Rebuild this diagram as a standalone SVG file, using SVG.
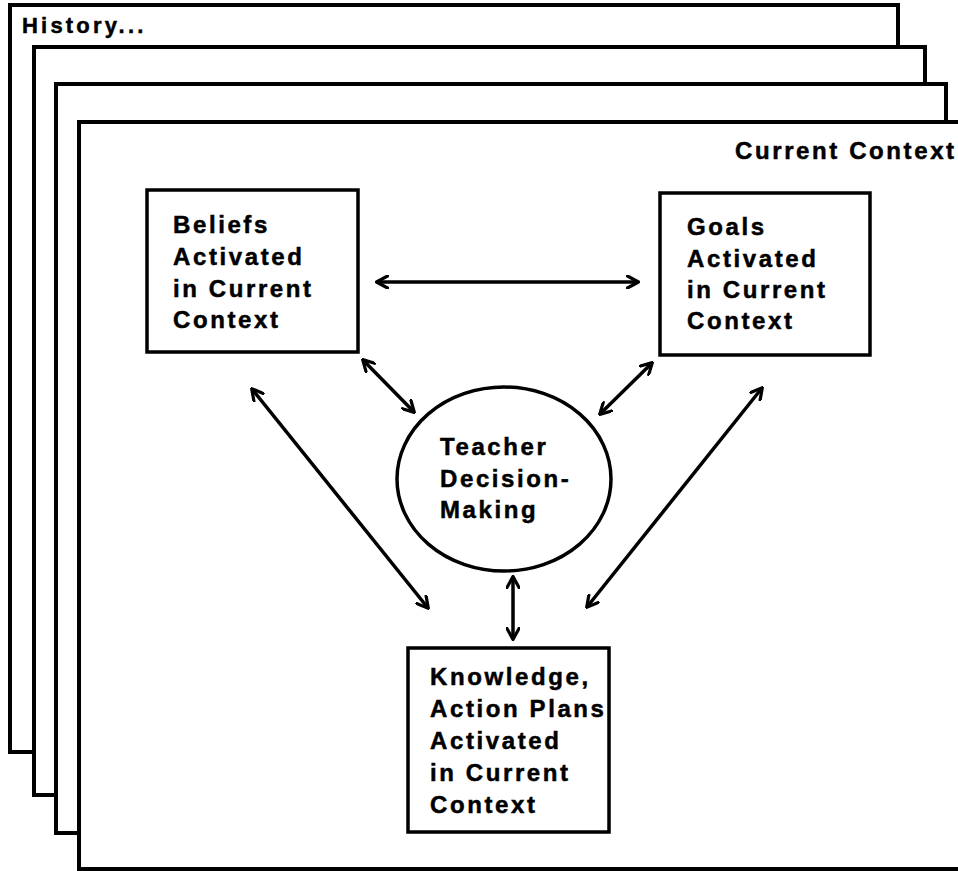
<svg xmlns="http://www.w3.org/2000/svg" width="958" height="871" viewBox="0 0 958 871">
<style>
.frame{fill:#fff;stroke:#000;stroke-width:4}
.box{fill:#fff;stroke:#000;stroke-width:3.5}
.t{font-family:"Liberation Sans",Arial,sans-serif;font-weight:bold;font-size:24px;letter-spacing:2.6px;fill:#000;stroke:#000;stroke-width:0.5}
.h{font-size:22px;letter-spacing:3.2px}
.arr{stroke:#000;stroke-width:3.5;fill:none;marker-start:url(#ah);marker-end:url(#ah)}
</style>
<defs>
<marker id="ah" viewBox="0 0 14 14" refX="12" refY="7" markerWidth="14" markerHeight="14" markerUnits="userSpaceOnUse" orient="auto-start-reverse">
<path d="M1.5,1 L12.5,7 L1.5,13" fill="none" stroke="#000" stroke-width="3.2" stroke-linecap="round" stroke-linejoin="round"/>
</marker>
</defs>
<rect width="958" height="871" fill="#fff"/>
<g id="frames">
<rect class="frame" x="10" y="5" width="888" height="747"/>
<text class="t h" x="22" y="33">History...</text>
<rect class="frame" x="34" y="47" width="891" height="748"/>
<rect class="frame" x="56" y="84" width="890" height="749"/>
<rect class="frame" x="79" y="122" width="900" height="747"/>
<text class="t" x="735" y="159">Current Context</text>
</g>
<g id="beliefs">
<rect class="box" x="147" y="190" width="211" height="162"/>
<text class="t" x="173" y="233">Beliefs</text>
<text class="t" x="173" y="265">Activated</text>
<text class="t" x="173" y="297">in Current</text>
<text class="t" x="173" y="328">Context</text>
</g>
<g id="goals">
<rect class="box" x="660" y="193" width="210" height="162"/>
<text class="t" x="687" y="235">Goals</text>
<text class="t" x="687" y="267">Activated</text>
<text class="t" x="687" y="298">in Current</text>
<text class="t" x="687" y="329">Context</text>
</g>
<g id="decision">
<ellipse cx="504" cy="479" rx="107" ry="92" fill="#fff" stroke="#000" stroke-width="3.5"/>
<text class="t" x="440" y="455">Teacher</text>
<text class="t" x="440" y="487">Decision-</text>
<text class="t" x="440" y="518">Making</text>
</g>
<g id="knowledge">
<rect class="box" x="408" y="648" width="201" height="184"/>
<text class="t" x="430" y="685">Knowledge,</text>
<text class="t" x="430" y="717">Action Plans</text>
<text class="t" x="430" y="749">Activated</text>
<text class="t" x="430" y="781">in Current</text>
<text class="t" x="430" y="813">Context</text>
</g>
<g id="connectors">
<line class="arr" x1="377" y1="282" x2="638" y2="282"/>
<line class="arr" x1="363" y1="360" x2="414" y2="412"/>
<line class="arr" x1="652" y1="363" x2="600" y2="414"/>
<line class="arr" x1="252" y1="389" x2="428" y2="608"/>
<line class="arr" x1="762" y1="388" x2="587" y2="607"/>
<line class="arr" x1="513" y1="577" x2="513" y2="639"/>
</g>
</svg>
